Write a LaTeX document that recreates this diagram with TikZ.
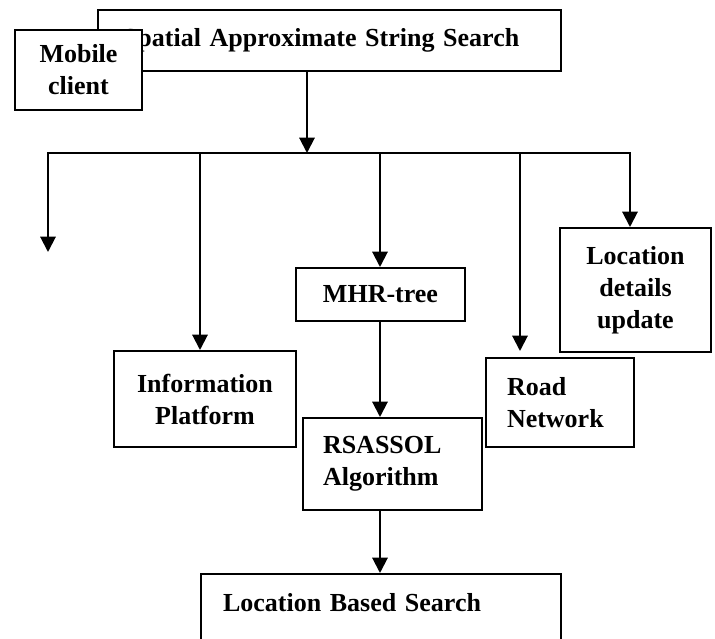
\documentclass[tikz,border=0pt]{standalone}
\usepackage{fontspec}
\setmainfont{Liberation Serif}
\usetikzlibrary{arrows.meta}

\tikzset{
  box/.style={draw, line width=1.5pt, fill=white, align=center,
    font=\fontsize{19.5}{24}\selectfont\bfseries},
  arr/.style={line width=1.5pt, -{Triangle[length=11.5pt,width=11.5pt]}}
}

\begin{document}
\begin{tikzpicture}[x=0.75pt,y=-0.75pt]
    \useasboundingbox (0,0) rectangle (715,639);
    \clip (0,0) rectangle (715,639);

    % Top
    \node[box, align=left, inner xsep=18.75pt, text width=309.75pt, minimum height=45.75pt] (search) at (329.5,40.5) {Spatial Approximate String Search};
    \node[box, minimum width=95.25pt, minimum height=60pt] (mobile) at (78.5,70) {Mobile\\client};

    % Boxes
    \node[box, minimum width=126.75pt, minimum height=39.75pt] (mhr) at (380.5,294.5) {MHR-tree};
    \node[box, minimum width=136.5pt, minimum height=72pt] (info) at (205,399) {Information\\Platform};
    \node[box, align=left, inner xsep=15pt, text width=104.25pt, minimum height=69pt] (rsa) at (392.5,464) {RSASSOL\\Algorithm};
    \node[box, align=left, inner xsep=15.75pt, text width=79.5pt, minimum height=66.75pt] (road) at (560,402.5) {Road\\Network};
    \node[box, minimum width=113.25pt, minimum height=93pt] (loc) at (635.5,290) {Location\\details\\update};
    \node[box, anchor=north west, align=left, inner xsep=16.5pt, inner ysep=0pt, text width=237pt, text height=27.75pt, text depth=52.5pt] (lbs) at (200,573) {Location Based Search};

    % Branch points
    \coordinate (top) at (307,153);
    \coordinate (left) at (48,153);
    \coordinate (right) at (630,153);
    \coordinate (b2) at (200,153);
    \coordinate (b3) at (380,153);
    \coordinate (b4) at (520,153);
    \coordinate (leftend) at (48,252);
    \coordinate (b4end) at (520,351);

    % Arrows
    \draw[arr] (search.south -| top) -- (top);
    \draw[line width=1.5pt, line cap=rect] (left) -- (right);
    \draw[arr] (left) -- (leftend);
    \draw[arr] (b2) -- (b2 |- info.north);
    \draw[arr] (b3) -- (b3 |- mhr.north);
    \draw[arr] (b4) -- (b4end);
    \draw[arr] (right) -- (right |- loc.north);
    \draw[arr] (mhr.south -| b3) -- (b3 |- rsa.north);
    \draw[arr] (rsa.south -| b3) -- (b3 |- lbs.north);
\end{tikzpicture}
\end{document}
